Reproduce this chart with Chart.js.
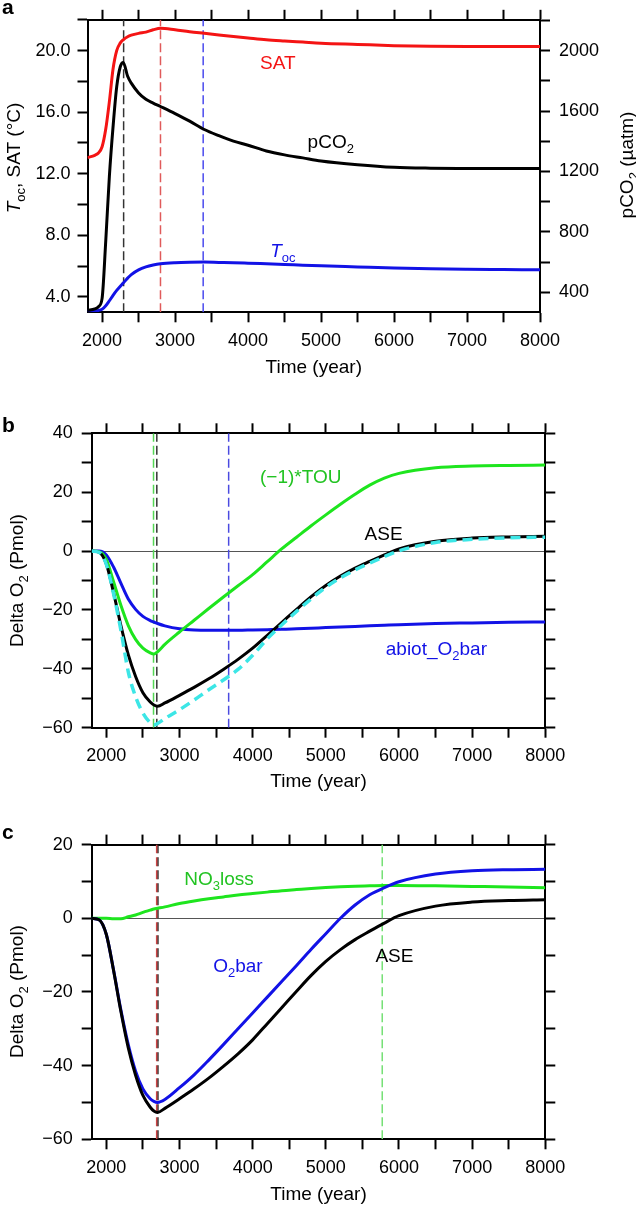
<!DOCTYPE html>
<html>
<head>
<meta charset="utf-8">
<script src="https://cdn.jsdelivr.net/npm/chart.js@4.4.0/dist/chart.umd.min.js"></script>
<style>
  body { margin: 0; background: #fff; }
  #wrap { position: relative; width: 636px; height: 1206px; overflow: hidden; }
  canvas { position: absolute; left: 0; }
</style>
</head>
<body>
<div id="wrap">
  <canvas id="ca" width="636" height="390" style="top:0px"></canvas>
  <canvas id="cb" width="636" height="410" style="top:390px"></canvas>
  <canvas id="cc" width="636" height="406" style="top:800px"></canvas>
</div>
<script>
// ---- data ----
const yearsA = [1800, 1900, 1950, 2000, 2050, 2100, 2150, 2200, 2250, 2290, 2350, 2400, 2500, 2600, 2700, 2800,
                3000, 3200, 3400, 3600, 3800, 4000, 4250, 4500, 4750, 5000, 5500, 6000, 6500, 7000, 7500, 8000];
const satA  = [13.05, 13.2, 13.35, 13.75, 14.9, 16.7, 18.8, 20.0, 20.5, 20.7, 20.9, 21.0, 21.12, 21.2, 21.35, 21.45,
               21.35, 21.22, 21.12, 21.02, 20.92, 20.82, 20.7, 20.62, 20.55, 20.48, 20.4, 20.32, 20.28, 20.26, 20.26, 20.26];
const pco2A = [280, 290, 305, 360, 740, 1170, 1495, 1760, 1895, 1922, 1830, 1785, 1720, 1678, 1653, 1630,
               1583, 1533, 1478, 1437, 1401, 1374, 1336, 1310, 1290, 1270, 1245, 1228, 1222, 1220, 1219, 1219];
const tocA  = [3.08, 3.1, 3.12, 3.2, 3.42, 3.75, 4.1, 4.42, 4.7, 4.9, 5.22, 5.45, 5.76, 5.95, 6.07, 6.15,
               6.22, 6.25, 6.26, 6.24, 6.22, 6.19, 6.15, 6.11, 6.06, 6.02, 5.95, 5.88, 5.83, 5.8, 5.78, 5.76];
const markA = [2295, 2800, 3385];   // black, red, blue dashed

const yearsBC = [1800, 1900, 2000, 2100, 2200, 2300, 2400, 2500, 2600, 2650, 2700, 2800, 3000, 3200, 3400, 3600,
                 3800, 4000, 4200, 4400, 4600, 4800, 5000, 5200, 5400, 5600, 5800, 6000, 6500, 7000, 7500, 8000];
const ase    = [0, -0.4, -4.4, -14.3, -25.4, -35.2, -42.6, -48.1, -51.3, -52.3, -52.7, -51.6, -49.0, -46.3, -43.4, -40.2,
                -36.8, -33.0, -28.6, -24.2, -19.8, -15.5, -11.7, -8.5, -5.8, -3.5, -1.3, 0.7, 3.3, 4.4, 4.8, 5.0];
const aseSum = [0, -0.4, -4.5, -14.6, -27.0, -41.0, -49.5, -55.0, -58.3, -59.1, -58.6, -56.9, -53.9, -50.6, -47.1, -43.8,
                -40.2, -35.4, -29.8, -25.0, -20.5, -16.2, -12.3, -9.1, -6.4, -4.1, -1.9, 0.1, 2.9, 4.0, 4.5, 4.7];
const touB   = [0, -0.2, -2.8, -10.5, -18.5, -25.3, -30.0, -33.0, -34.6, -35.0, -34.2, -31.7, -27.5, -23.5, -19.5, -15.6,
                -11.8, -8.0, -3.6, 0.8, 4.7, 8.6, 12.3, 15.9, 19.3, 22.4, 24.8, 26.4, 28.3, 28.9, 29.1, 29.2];
const abiotB = [0, 0, -1.3, -5.5, -11.0, -16.3, -19.8, -22.2, -23.6, -24.1, -24.6, -25.4, -26.4, -26.8, -26.9, -26.9,
                -26.9, -26.8, -26.7, -26.6, -26.4, -26.2, -26.0, -25.8, -25.6, -25.4, -25.2, -25.0, -24.6, -24.4, -24.2, -24.1];
const o2barC = [0, -0.4, -4.4, -14.2, -25.0, -34.3, -41.5, -46.3, -49.0, -49.7, -50.0, -49.2, -46.0, -42.5, -38.5, -34.3,
                -30.0, -25.7, -21.4, -17.1, -12.8, -8.4, -4.2, 0.0, 3.6, 6.4, 8.3, 9.9, 12.0, 12.9, 13.2, 13.3];
const no3C   = [0, 0, 0, -0.1, -0.1, 0.4, 0.9, 1.6, 2.2, 2.5, 2.7, 3.1, 4.0, 4.7, 5.3, 5.8,
                6.3, 6.7, 7.1, 7.5, 7.8, 8.1, 8.35, 8.55, 8.7, 8.8, 8.9, 8.9, 8.8, 8.65, 8.5, 8.3];
const markB = [2645, 2690, 3672];   // green, black, blue dashed
const markC = [2688, 2705, 5771];   // red, black, green dashed

// tick positions (labels on every other one)
const xTicks = [2000, 2500, 3000, 3500, 4000, 4500, 5000, 5500, 6000, 6500, 7000, 7500, 8000];
const aLeftTicks = [4, 6, 8, 10, 12, 14, 16, 18, 20, 22];
const aRightTicks = [400, 600, 800, 1000, 1200, 1400, 1600, 1800, 2000, 2200];
const bTicks = [-60, -50, -40, -30, -20, -10, 0, 10, 20, 30, 40];
const cTicks = [-60, -50, -40, -30, -20, -10, 0, 10, 20];

const xMin = 1800, xMax = 8000;
const aMin = 3, aMax = 22, aRMin = 268, aRMax = 2204;
const bMin = -60, bMax = 40, cMin = -60, cMax = 20;

Chart.defaults.font.family = '"Liberation Sans", Arial, Helvetica, sans-serif';
Chart.defaults.font.size = 18;
Chart.defaults.color = '#000';

const RED = '#f41414', BLUE = '#1212e6', GREEN = '#1ee51e', CYAN = '#3ce6e6';
const UP = -Math.PI / 2;
const minus = v => String(v).replace('-', '\u2212');

function pts(xs, ys) {
  return xs.map((x, i) => ({ x: x, y: ys[i] }));
}

function curve(xs, ys, color, order, axis) {
  return {
    data: pts(xs, ys), borderColor: color, borderWidth: 3, pointRadius: 0,
    cubicInterpolationMode: 'monotone', order: order, yAxisID: axis || 'y'
  };
}

function vline(x, lo, hi, color, axis) {
  return {
    data: [{ x: x, y: lo }, { x: x, y: hi }], borderColor: color, borderWidth: 1.5,
    borderDash: [9, 4], pointRadius: 0, order: 10, yAxisID: axis || 'y'
  };
}

// draws text with italic / subscript pieces
function drawRich(ctx, parts, x, y, rot, color, size, align) {
  const fam = Chart.defaults.font.family;
  const fontOf = st => (st === 'i' ? 'italic ' : '') + (st === 'b' ? 'bold ' : '') +
    (st === 's' ? Math.round(size * 0.68) : size) + 'px ' + fam;
  ctx.save();
  ctx.translate(x, y);
  ctx.rotate(rot);
  ctx.fillStyle = color;
  ctx.textBaseline = 'alphabetic';
  let total = 0;
  parts.forEach(p => { ctx.font = fontOf(p[1]); total += ctx.measureText(p[0]).width; });
  let cx = align === 'left' ? 0 : -total / 2;
  const base = size * 0.36;
  parts.forEach(p => {
    ctx.font = fontOf(p[1]);
    ctx.fillText(p[0], cx, p[1] === 's' ? base + size * 0.28 : base);
    cx += ctx.measureText(p[0]).width;
  });
  ctx.restore();
}

const richText = {
  id: 'rich',
  afterDraw(chart, args, opts) {
    const ctx = chart.ctx;
    (opts.items || []).forEach(it => {
      let x = it.x, y = it.y;
      if (it.data) {
        x = chart.scales.x.getPixelForValue(it.x);
        y = chart.scales[it.axis || 'y'].getPixelForValue(it.y);
      }
      drawRich(ctx, it.parts, x, y, it.rot || 0, it.color || '#000', it.size || 19, it.align);
    });
  }
};

const frame = { display: true, color: '#000', width: 2 };
function tickGrid() {
  return { drawOnChartArea: false, drawTicks: true, tickLength: 10, tickWidth: 2, tickColor: '#000', color: '#000' };
}
function zeroGrid() {
  return {
    drawOnChartArea: true, drawTicks: true, tickLength: 10, tickWidth: 2, tickColor: '#000', lineWidth: 1,
    color: c => (c.tick && c.tick.value === 0) ? '#555' : 'rgba(0,0,0,0)'
  };
}
const setTicks = vals => s => { s.ticks = vals.map(v => ({ value: v })); };

function xScales(bottomH, topH, titlePad) {
  return {
    x: {
      type: 'linear', position: 'bottom', min: xMin, max: xMax,
      grid: tickGrid(), border: frame,
      afterBuildTicks: setTicks(xTicks),
      ticks: { autoSkip: false, maxRotation: 0, minRotation: 0, padding: 8,
               callback: v => v % 1000 === 0 ? String(v) : '' },
      title: { display: true, text: 'Time (year)', font: { size: 19 }, padding: { top: 0, bottom: titlePad } },
      afterFit: s => { s.height = bottomH; }
    },
    xt: {
      type: 'linear', position: 'top', min: xMin, max: xMax,
      grid: tickGrid(), border: frame,
      afterBuildTicks: setTicks(xTicks),
      ticks: { autoSkip: false, maxRotation: 0, minRotation: 0, callback: () => '' },
      afterFit: s => { s.height = topH; }
    }
  };
}

function yScale(pos, min, max, vals, label, w, pad, grid) {
  return {
    type: 'linear', position: pos, min: min, max: max,
    grid: grid || tickGrid(), border: frame,
    afterBuildTicks: setTicks(vals),
    ticks: { autoSkip: false, padding: pad, callback: label },
    afterFit: s => { s.width = w; }
  };
}

function baseOptions(scales, items) {
  return {
    responsive: false, animation: false, events: [],
    layout: { padding: 0 },
    plugins: { legend: { display: false }, tooltip: { enabled: false }, rich: { items: items } },
    scales: scales
  };
}

// ---- panel a ----
const scalesA = xScales(77.7, 18, 11);
scalesA.y = yScale('left', aMin, aMax, aLeftTicks, v => v % 4 === 0 ? v.toFixed(1) : '', 87.5, 7);
scalesA.yr = yScale('right', aRMin, aRMax, aRightTicks, v => v % 400 === 0 ? String(v) : '', 96, 9);

new Chart(document.getElementById('ca'), {
  type: 'line',
  data: {
    datasets: [
      curve(yearsA, pco2A, '#000', 0, 'yr'),
      curve(yearsA, satA, RED, 1),
      curve(yearsA, tocA, BLUE, 2),
      vline(markA[0], aMin, aMax, '#333'),
      vline(markA[1], aMin, aMax, '#e05a5a'),
      vline(markA[2], aMin, aMax, '#4a4aee')
    ]
  },
  options: baseOptions(scalesA, [
    { parts: [['a', 'b']], x: 2, y: 6.4, size: 21, align: 'left' },
    { parts: [['T', 'i'], ['oc', 's'], [', SAT (°C)', '']], x: 13, y: 158, rot: UP },
    { parts: [['pCO', ''], ['2', 's'], [' (µatm)', '']], x: 626, y: 165, rot: UP },
    { parts: [['SAT', '']], data: true, x: 4408, y: 19.23, color: RED },
    { parts: [['pCO', ''], ['2', 's']], data: true, x: 5133, y: 14.14 },
    { parts: [['T', 'i'], ['oc', 's']], data: true, x: 4476, y: 7.05, color: BLUE }
  ]),
  plugins: [richText]
});

// ---- panel b ----
const scalesB = xScales(72.3, 43.3, 6.6);
scalesB.y = yScale('left', bMin, bMax, bTicks, v => v % 20 === 0 ? minus(v) : '', 91.7, 9, zeroGrid());
scalesB.yr = yScale('right', bMin, bMax, bTicks, () => '', 90.7, 0);

const cyanSum = curve(yearsBC, aseSum, CYAN, 0);
cyanSum.borderDash = [10, 6];
cyanSum.borderWidth = 3.5;

new Chart(document.getElementById('cb'), {
  type: 'line',
  data: {
    datasets: [
      cyanSum,
      curve(yearsBC, ase, '#000', 1),
      curve(yearsBC, touB, GREEN, 2),
      curve(yearsBC, abiotB, BLUE, 3),
      vline(markB[0], bMin, bMax, '#55d855'),
      vline(markB[1], bMin, bMax, '#333'),
      vline(markB[2], bMin, bMax, '#4a4ae0')
    ]
  },
  options: baseOptions(scalesB, [
    { parts: [['b', 'b']], x: 2, y: 34.1, size: 21, align: 'left' },
    { parts: [['Delta O', ''], ['2', 's'], [' (Pmol)', '']], x: 16, y: 190.5, rot: UP },
    { parts: [['(\u22121)*TOU', '']], data: true, x: 4657, y: 25.5, color: '#22c322' },
    { parts: [['ASE', '']], data: true, x: 5789, y: 6.1 },
    { parts: [['abiot_O', ''], ['2', 's'], ['bar', '']], data: true, x: 6511, y: -32.9, color: BLUE }
  ]),
  plugins: [richText]
});

// ---- panel c ----
const scalesC = xScales(66.7, 44.6, 0);
scalesC.y = yScale('left', cMin, cMax, cTicks, v => v % 20 === 0 ? minus(v) : '', 91.7, 9, zeroGrid());
scalesC.yr = yScale('right', cMin, cMax, cTicks, () => '', 90.7, 0);

new Chart(document.getElementById('cc'), {
  type: 'line',
  data: {
    datasets: [
      curve(yearsBC, ase, '#000', 0),
      curve(yearsBC, o2barC, BLUE, 1),
      curve(yearsBC, no3C, GREEN, 2),
      vline(markC[0], cMin, cMax, '#cc4444'),
      vline(markC[1], cMin, cMax, '#222'),
      vline(markC[2], cMin, cMax, '#77e077')
    ]
  },
  options: baseOptions(scalesC, [
    { parts: [['c', 'b']], x: 2, y: 31.4, size: 21, align: 'left' },
    { parts: [['Delta O', ''], ['2', 's'], [' (Pmol)', '']], x: 16, y: 191.5, rot: UP },
    { parts: [['NO', ''], ['3', 's'], ['loss', '']], data: true, x: 3540, y: 10.9, color: '#22c322' },
    { parts: [['O', ''], ['2', 's'], ['bar', '']], data: true, x: 3799, y: -12.7, color: BLUE },
    { parts: [['ASE', '']], data: true, x: 5938, y: -10.0 }
  ]),
  plugins: [richText]
});
</script>
</body>
</html>
